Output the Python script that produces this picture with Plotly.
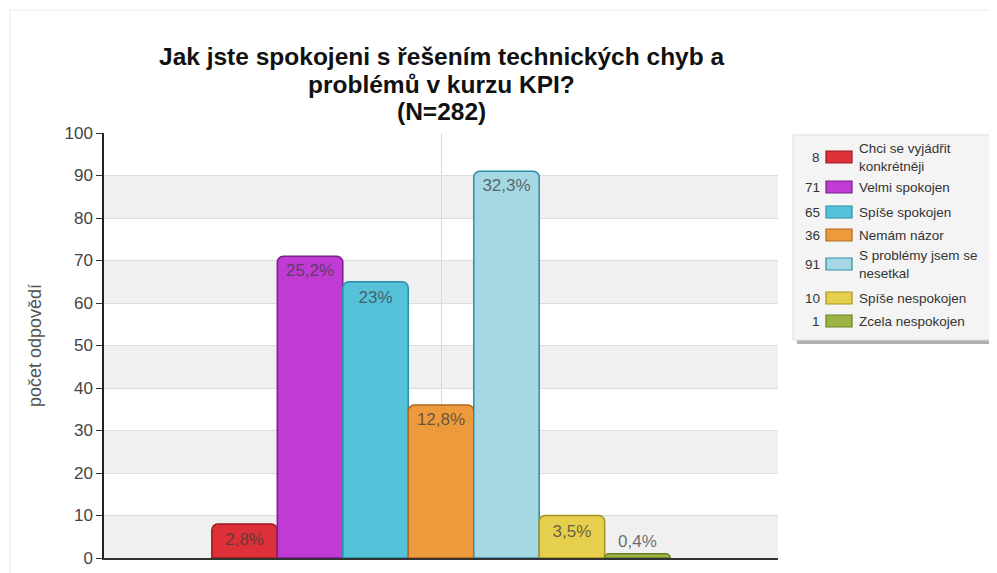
import plotly.graph_objects as go

categories = ["Chci se vyjádřit<br>konkrétněji", "Velmi spokojen", "Spíše spokojen", "Nemám názor",
              "S problémy jsem se<br>nesetkal", "Spíše nespokojen", "Zcela nespokojen"]
counts = [8, 71, 65, 36, 91, 10, 1]
pct_labels = ["2,8%", "25,2%", "23%", "12,8%", "32,3%", "3,5%", "0,4%"]
colors = ["#dd3038", "#c03ad4", "#55c2da", "#ec9a3c", "#a6d8e4", "#e6cf4c", "#9cb446"]
lines = ["#9a1a20", "#7c1e8c", "#2a8ea6", "#b06a18", "#2a8ea6", "#a89220", "#6a8024"]
y_ticks = list(range(0, 101, 10))
title_lines = ["Jak jste spokojeni s řešením technických chyb a", "problémů v kurzu KPI?", "(N=282)"]
y_title = "počet odpovědí"

OFF = 8  # page body margin
W, H = 997, 573
L, R, T, B = 104 - OFF, 778 - OFF, 133 - OFF, 558 - OFF
def px(x):  # screen x -> paper
    return (x - OFF - L) / (R - L)
def py(y):  # screen y -> paper
    return (B - (y - OFF)) / (B - T)

FONT = "Liberation Sans, Arial"
fig = go.Figure()
for i, (name, c, lab) in enumerate(zip(categories, counts, pct_labels)):
    fig.add_trace(go.Bar(
        x=["KPI"], y=[c], name=name, text=[lab],
        textposition="outside" if c < 5 else "inside",
        insidetextanchor="end",
        textfont=dict(size=17, color="rgba(60,60,60,0.75)", family=FONT),
        marker=dict(color=colors[i], line=dict(color=lines[i], width=1.5), cornerradius=6),
        cliponaxis=False, showlegend=False,
    ))

shapes = []
for lo in y_ticks[:-1:2]:
    shapes.append(dict(type="rect", xref="paper", yref="y", x0=0, x1=1, y0=lo, y1=lo + 10,
                       fillcolor="#f0f0f0", line=dict(width=0), layer="below"))
# legend box with shadow
shapes.append(dict(type="rect", xref="paper", yref="paper", x0=px(797), x1=px(999), y0=py(344), y1=py(139),
                   fillcolor="#b0b0b0", line=dict(width=0), layer="above"))
shapes.append(dict(type="rect", xref="paper", yref="paper", x0=px(793), x1=px(995), y0=py(340), y1=py(135),
                   fillcolor="#f4f4f4", line=dict(color="#dddddd", width=1), layer="above"))
# outer frame
shapes.append(dict(type="rect", xref="paper", yref="paper", x0=px(10), x1=px(990), y0=py(575), y1=py(10),
                   fillcolor="rgba(0,0,0,0)", line=dict(color="#e6eef6", width=1), layer="below"))

annotations = []
for k, (line, yc) in enumerate(zip(title_lines, [56, 84, 111])):
    annotations.append(dict(xref="paper", yref="paper", x=px(441), y=py(yc), text="<b>" + line + "</b>",
                            showarrow=False, xanchor="center", yanchor="middle",
                            font=dict(size=24.5, color="#111", family=FONT)))
leg_y = [157, 187, 212, 235, 264, 298, 321]
for i, (name, c) in enumerate(zip(categories, counts)):
    yc = leg_y[i]
    annotations.append(dict(xref="paper", yref="paper", x=px(822), y=py(yc), text=str(c), showarrow=False,
                            xanchor="right", yanchor="middle", font=dict(size=13.5, color="#333", family=FONT)))
    shapes.append(dict(type="rect", xref="paper", yref="paper", x0=px(826), x1=px(852),
                       y0=py(yc + 6), y1=py(yc - 6), fillcolor=colors[i],
                       line=dict(color=lines[i], width=1.2), layer="above"))
    annotations.append(dict(xref="paper", yref="paper", x=px(857), y=py(yc), text=name, showarrow=False,
                            xanchor="left", yanchor="middle", align="left",
                            font=dict(size=13.5, color="#333", family=FONT)))

fig.update_layout(
    width=W, height=H,
    margin=dict(l=L, r=W - R, t=T, b=H - B),
    paper_bgcolor="white", plot_bgcolor="white",
    barmode="group", bargap=0.32, bargroupgap=0,
    xaxis=dict(showticklabels=False, showgrid=True, gridcolor="#d8d8d8", ticks="",
               showline=True, linecolor="#333", linewidth=1.5, zeroline=False),
    yaxis=dict(range=[0, 100], tickvals=y_ticks, ticks="outside", ticklen=6, tickcolor="#333",
               showline=True, linecolor="#222", linewidth=1.5, showgrid=True, gridcolor="#dcdcdc",
               zeroline=False, tickfont=dict(size=17, color="#444", family=FONT),
               title=dict(text=y_title, standoff=18, font=dict(size=18, color="#555", family=FONT))),
    shapes=shapes, annotations=annotations,
    uniformtext=dict(minsize=14, mode="show"),
)
fig.write_html("out.html")
